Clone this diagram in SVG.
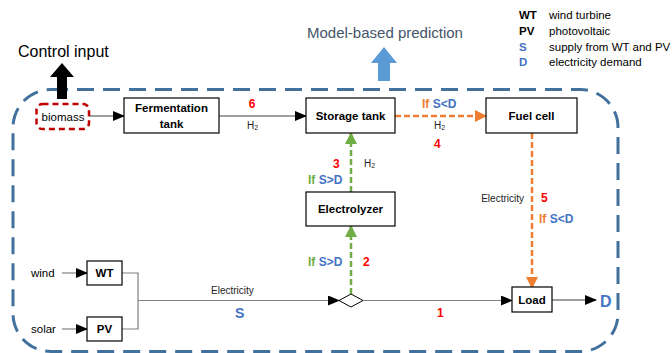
<svg xmlns="http://www.w3.org/2000/svg" width="672" height="353" viewBox="0 0 672 353">
<style>
text{font-family:"Liberation Sans",Arial,sans-serif;}
.box{fill:#fff;stroke:#000;stroke-width:1.2;}
.bt{font-size:11.5px;font-weight:bold;fill:#000;text-anchor:middle;}
.lbl{font-size:10px;fill:#222;}
.num{font-size:12px;font-weight:bold;fill:#ff0000;}
.grn{fill:#70ad47;font-weight:bold;font-size:12px;}
.org{fill:#ed7d31;font-weight:bold;font-size:12px;}
.leg{font-size:11.5px;fill:#000;}
.blu{fill:#4472c4;font-weight:bold;}
.line{fill:none;stroke:#808080;stroke-width:1.2;}
.dline{fill:none;stroke:#404040;stroke-width:1;}
.gdash{fill:none;stroke:#70ad47;stroke-width:2.5;stroke-dasharray:6 3;}
.odash{fill:none;stroke:#ed7d31;stroke-width:2.5;stroke-dasharray:6 3;}
</style>
<defs>
<marker id="ab" markerWidth="12" markerHeight="10" refX="11" refY="5" orient="auto" markerUnits="userSpaceOnUse"><path d="M0,0 L12,5 L0,10 Z" fill="#000"/></marker>
<marker id="ag" markerWidth="12" markerHeight="12" refX="11" refY="6" orient="auto" markerUnits="userSpaceOnUse"><path d="M0,0 L12,6 L0,12 Z" fill="#70ad47"/></marker>
<marker id="ao" markerWidth="12" markerHeight="12" refX="11" refY="6" orient="auto" markerUnits="userSpaceOnUse"><path d="M0,0 L12,6 L0,12 Z" fill="#ed7d31"/></marker>
</defs>

<!-- boundary -->
<rect id="boundary" x="13" y="89.5" width="605" height="262" rx="38" ry="38" fill="none" stroke="#41719c" stroke-width="3" stroke-dasharray="17 9"/>

<!-- Control input -->
<g id="control-input">
<text x="18" y="57" font-size="16" fill="#000">Control input</text>
<path d="M62,63 L74,77 L67,77 L67,99 L57,99 L57,77 L50,77 Z" fill="#000"/>
</g>

<!-- Model-based prediction -->
<g id="model-prediction">
<text x="307" y="38" font-size="15" fill="#44546a">Model-based prediction</text>
<path d="M384,47 L397,63 L390,63 L390,81 L378,81 L378,63 L371,63 Z" fill="#5b9bd5"/>
</g>

<!-- Legend -->
<g id="legend">
<text x="519" y="19" class="leg" font-weight="bold">WT</text><text x="549" y="19" class="leg">wind turbine</text>
<text x="519" y="35" class="leg" font-weight="bold">PV</text><text x="549" y="35" class="leg">photovoltaic</text>
<text x="519" y="51" class="leg blu">S</text><text x="549" y="51" class="leg">supply from WT and PV</text>
<text x="519" y="66" class="leg blu">D</text><text x="549" y="66" class="leg">electricity demand</text>
</g>

<!-- connectors -->
<g id="connectors">
<line class="dline" x1="89" y1="116" x2="124" y2="116" marker-end="url(#ab)"/>
<line class="dline" x1="219" y1="116" x2="306" y2="116" marker-end="url(#ab)"/>
<line class="odash" x1="395" y1="116" x2="486" y2="116" marker-end="url(#ao)"/>
<line class="gdash" x1="351" y1="192" x2="351" y2="133" marker-end="url(#ag)"/>
<line class="gdash" x1="351" y1="294" x2="351" y2="226" marker-end="url(#ag)"/>
<line class="odash" x1="532" y1="133" x2="532" y2="288" marker-end="url(#ao)"/>
<line class="line" x1="62" y1="273" x2="87" y2="273" marker-end="url(#ab)"/>
<line class="line" x1="62" y1="329" x2="87" y2="329" marker-end="url(#ab)"/>
<polyline class="line" points="122,273 138,273 138,329 122,329"/>
<line class="line" x1="138" y1="300.5" x2="339" y2="300.5" marker-end="url(#ab)"/>
<line class="line" x1="363" y1="300.5" x2="512" y2="300.5" marker-end="url(#ab)"/>
<line class="dline" x1="552" y1="300" x2="596" y2="300" marker-end="url(#ab)"/>
<!-- labels -->
<text x="252" y="108" class="num" text-anchor="middle">6</text>
<text x="247" y="129" class="lbl">H<tspan font-size="7" dy="1">2</tspan></text>
<text x="422" y="108" class="org">If <tspan class="blu">S&lt;D</tspan></text>
<text x="434" y="129" class="lbl">H<tspan font-size="7" dy="1">2</tspan></text>
<text x="434" y="148" class="num">4</text>
<text x="333" y="168" class="num">3</text>
<text x="364" y="167" class="lbl">H<tspan font-size="7" dy="1">2</tspan></text>
<text x="308" y="184" class="grn">If <tspan class="blu">S&gt;D</tspan></text>
<text x="308" y="266" class="grn">If <tspan class="blu">S&gt;D</tspan></text>
<text x="363" y="266" class="num">2</text>
<text x="524" y="202" class="lbl" text-anchor="end">Electricity</text>
<text x="541" y="202" class="num">5</text>
<text x="539" y="223" class="org">If <tspan class="blu">S&lt;D</tspan></text>
<text x="211" y="294" class="lbl">Electricity</text>
<text x="235" y="318" class="blu" font-size="14">S</text>
<text x="437" y="317" class="num">1</text>
<text x="600" y="307" class="blu" font-size="16">D</text>
<text x="31" y="277" font-size="11.5" fill="#000">wind</text>
<text x="31" y="333" font-size="11.5" fill="#000">solar</text>
</g>

<!-- nodes -->
<g id="biomass">
<rect x="36.5" y="104" width="52.5" height="25" rx="6" fill="#fff" stroke="#c00000" stroke-width="2.5" stroke-dasharray="6 4"/>
<text x="63" y="121" font-size="11.5" fill="#000" text-anchor="middle">biomass</text>
</g>
<g id="fermentation-tank">
<rect class="box" x="124" y="98" width="95" height="35"/>
<text class="bt" x="171.5" y="112">Fermentation</text>
<text class="bt" x="171.5" y="128">tank</text>
</g>
<g id="storage-tank">
<rect class="box" x="306" y="98" width="89" height="35"/>
<text class="bt" x="350.5" y="120">Storage tank</text>
</g>
<g id="fuel-cell">
<rect class="box" x="486" y="98" width="91" height="35"/>
<text class="bt" x="531.5" y="120">Fuel cell</text>
</g>
<g id="electrolyzer">
<rect class="box" x="306" y="192" width="89" height="34"/>
<text class="bt" x="350.5" y="213">Electrolyzer</text>
</g>
<g id="junction">
<polygon points="339,300.5 351,294 363,300.5 351,307" fill="#fff" stroke="#000" stroke-width="1"/>
</g>
<g id="wt">
<rect class="box" x="87" y="261" width="35" height="24"/>
<text class="bt" x="104.5" y="277">WT</text>
</g>
<g id="pv">
<rect class="box" x="87" y="317" width="35" height="24"/>
<text class="bt" x="104.5" y="333">PV</text>
</g>
<g id="load">
<rect class="box" x="512" y="287" width="40" height="25"/>
<text class="bt" x="532" y="304">Load</text>
</g>
</svg>
